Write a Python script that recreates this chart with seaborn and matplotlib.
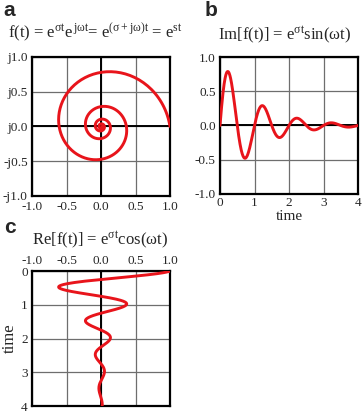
import numpy as np
import pandas as pd
import seaborn as sns
import matplotlib
matplotlib.use("Agg")
import matplotlib.pyplot as plt

# parameters (decay and angular frequency of f(t) = e^{st})
sigma = -1.0
omega = 2 * np.pi
t_start, t_end = 0.0, 4.0
n_samples = 600

a_ticks = [-1.0, -0.5, 0.0, 0.5, 1.0]
a_ylabels = ["-j1.0", "-j0.5", "j0.0", "j0.5", "j1.0"]
b_xticks = [0, 1, 2, 3, 4]
b_yticks = [-1.0, -0.5, 0.0, 0.5, 1.0]
c_xticks = [-1.0, -0.5, 0.0, 0.5, 1.0]
c_yticks = [0, 1, 2, 3, 4]

t = np.linspace(t_start, t_end, n_samples)
df = pd.DataFrame({"time": t,
                   "re": np.exp(sigma * t) * np.cos(omega * t),
                   "im": np.exp(sigma * t) * np.sin(omega * t)})

sns.set_style("white")
plt.rcParams["font.family"] = ["Liberation Serif", "DejaVu Serif"]
plt.rcParams["mathtext.fontset"] = "custom"
plt.rcParams["mathtext.rm"] = "Liberation Serif"
plt.rcParams["mathtext.it"] = "Liberation Serif"
plt.rcParams["mathtext.default"] = "rm"

red = "#e8141b"
W, H = 363, 415
fig = plt.figure(figsize=(W / 100, H / 100), dpi=100)


def box(l, t_, r, b):
    return [l / W, 1 - b / H, (r - l) / W, (b - t_) / H]


def style(ax):
    ax.grid(True, color="#6e6e6e", lw=0.9)
    ax.set_axisbelow(True)
    for s in ax.spines.values():
        s.set_visible(True)
        s.set_color("black")
        s.set_linewidth(1.6)
    ax.tick_params(length=0, pad=2, labelsize=9.5)
    ax.tick_params(axis="y", pad=3)
    ax.set_xlabel("")
    ax.set_ylabel("")


# panel a: spiral in complex plane
ax1 = fig.add_axes(box(32, 57, 170, 196))
ax1.axhline(0, color="black", lw=1.4, zorder=1.5)
ax1.axvline(0, color="black", lw=1.4, zorder=1.5)
sns.lineplot(data=df, x="re", y="im", sort=False, color=red, lw=2.1, ax=ax1, zorder=3)
ax1.set_xlim(-1, 1)
ax1.set_ylim(-1, 1)
ax1.set_xticks(a_ticks)
ax1.set_xticklabels([f"{v:.1f}" for v in a_ticks])
ax1.set_yticks(a_ticks)
ax1.set_yticklabels(a_ylabels)
style(ax1)
ax1.tick_params(axis="x", pad=3.5)

# panel b: imaginary part vs time
ax2 = fig.add_axes(box(220, 57, 358, 194))
ax2.axhline(0, color="black", lw=1.4, zorder=1.5)
sns.lineplot(data=df, x="time", y="im", color=red, lw=2.1, ax=ax2, zorder=3)
ax2.set_xlim(0, 4)
ax2.set_ylim(-1, 1)
ax2.set_xticks(b_xticks)
ax2.set_yticks(b_yticks)
ax2.set_yticklabels([f"{v:.1f}" for v in b_yticks])
style(ax2)
ax2.set_xlabel("time", fontsize=11, labelpad=1)

# panel c: real part, time running downwards
ax3 = fig.add_axes(box(32, 271, 170, 406))
ax3.axvline(0, color="black", lw=1.4, zorder=1.5)
sns.lineplot(data=df, x="re", y="time", sort=False, orient="y", color=red, lw=2.1, ax=ax3, zorder=3)
ax3.set_xlim(-1, 1)
ax3.set_ylim(4, 0)
ax3.set_xticks(c_xticks)
ax3.set_xticklabels([f"{v:.1f}" for v in c_xticks])
ax3.set_yticks(c_yticks)
style(ax3)
ax3.xaxis.tick_top()
ax3.tick_params(axis="x", pad=3)
ax3.set_ylabel("time", fontsize=12, labelpad=2)

# titles and panel letters
fig.text(95 / W, 1 - 33 / H, r"f(t) = e$^{\sigma t}$e$^{\,j\omega t}$= e$^{(\sigma+j\omega)t}$ = e$^{st}$",
         ha="center", va="center", fontsize=12)
fig.text(285 / W, 1 - 35 / H, r"Im[f(t)] = e$^{\sigma t}$sin($\omega$t)",
         ha="center", va="center", fontsize=12)
fig.text(100 / W, 1 - 240 / H, r"Re[f(t)] = e$^{\sigma t}$cos($\omega$t)",
         ha="center", va="center", fontsize=12)
for lab, x, y in [("a", 3, 1), ("b", 205, 1), ("c", 4, 218)]:
    fig.text(x / W, 1 - y / H, lab, ha="left", va="top", fontsize=15,
             fontweight="bold", family="Liberation Sans")

fig.savefig("out.png", dpi=100)
